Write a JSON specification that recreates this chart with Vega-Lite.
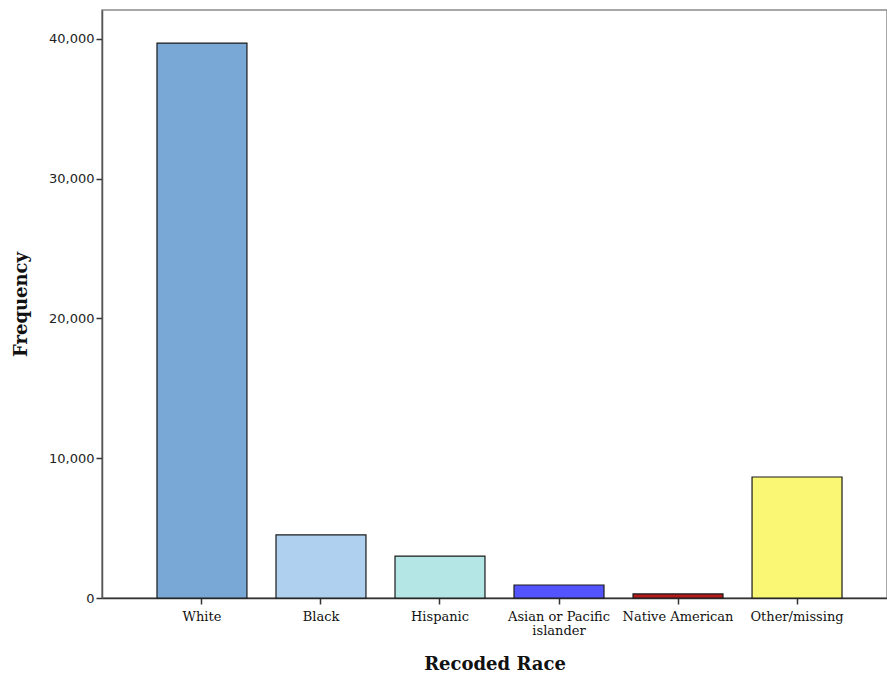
{
  "$schema": "https://vega.github.io/schema/vega-lite/v6.json",
  "width": 785,
  "height": 588,
  "autosize": {"type": "none"},
  "padding": {"left": 102, "top": 10, "right": 0, "bottom": 82},
  "background": "white",
  "config": {
    "view": {"stroke": "#8a8a8a", "strokeWidth": 1.5},
    "axis": {"grid": false}
  },
  "data": {
    "values": [
      {"race": "White", "count": 39710, "color": "#7aa8d6"},
      {"race": "Black", "count": 4510, "color": "#afd0ee"},
      {"race": "Hispanic", "count": 3000, "color": "#b4e6e6"},
      {"race": "Asian or Pacific islander", "count": 930, "color": "#5454ff"},
      {"race": "Native American", "count": 290, "color": "#b31b1b"},
      {"race": "Other/missing", "count": 8660, "color": "#faf775"}
    ]
  },
  "mark": {"type": "bar", "stroke": "#1a1a1a", "strokeWidth": 1.2},
  "encoding": {
    "x": {
      "field": "race",
      "type": "nominal",
      "sort": null,
      "scale": {"paddingInner": 0.244, "paddingOuter": 0.42, "align": 0.55},
      "axis": {
        "title": "Recoded Race",
        "titleFont": "DejaVu Serif",
        "titleFontSize": 18,
        "titleFontWeight": "bold",
        "titleColor": "#111",
        "titlePadding": 18,
        "labelAngle": 0,
        "labelFont": "DejaVu Serif",
        "labelFontSize": 13,
        "labelColor": "#111",
        "labelPadding": 6,
        "labelLimit": 200,
        "labelLineHeight": 14,
        "labelExpr": "datum.label == 'Asian or Pacific islander' ? ['Asian or Pacific', 'islander'] : datum.label",
        "domainColor": "#333",
        "domainWidth": 1.5,
        "tickColor": "#333",
        "tickWidth": 1.5,
        "tickSize": 6
      }
    },
    "y": {
      "field": "count",
      "type": "quantitative",
      "scale": {"domain": [0, 42075], "nice": false},
      "axis": {
        "title": "Frequency",
        "titleFont": "DejaVu Serif",
        "titleFontSize": 18,
        "titleFontWeight": "bold",
        "titleColor": "#111",
        "titlePadding": 18,
        "values": [0, 10000, 20000, 30000, 40000],
        "format": ",d",
        "labelFont": "DejaVu Sans",
        "labelFontSize": 13,
        "labelColor": "#222",
        "labelPadding": 2,
        "domainColor": "#555",
        "domainWidth": 1.5,
        "tickColor": "#333",
        "tickWidth": 1.5,
        "tickSize": 6
      }
    },
    "color": {"field": "color", "type": "nominal", "scale": null, "legend": null}
  }
}
